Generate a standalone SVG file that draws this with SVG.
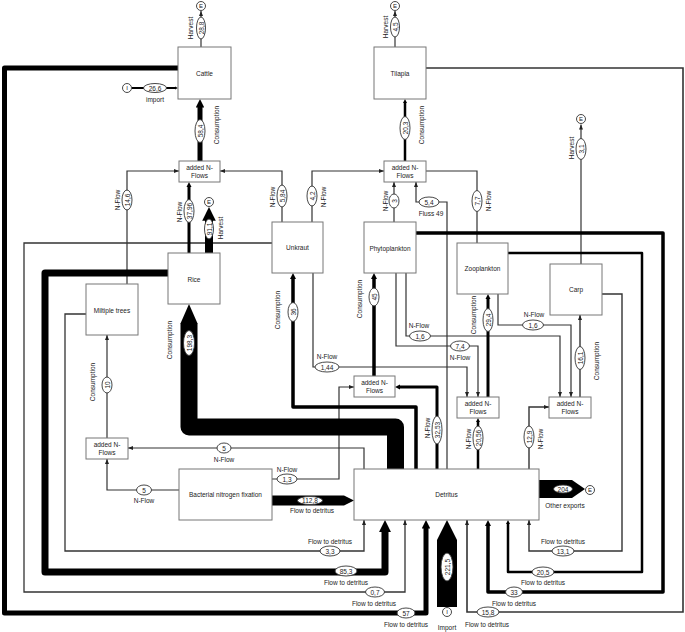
<svg xmlns="http://www.w3.org/2000/svg" width="685" height="632" viewBox="0 0 685 632">
<defs>
<style>
.box{fill:#fff;stroke:#777;stroke-width:1}
.t{font-family:"Liberation Sans",Arial,sans-serif;font-size:6.5px;fill:#222;text-anchor:middle;dominant-baseline:central}
.th{fill:none;stroke:#333;stroke-width:1.2}
.tk{fill:none;stroke:#000;stroke-linejoin:round}
.el{fill:#fff;stroke:#333;stroke-width:0.9}
.term{fill:#fff;stroke:#333;stroke-width:0.9}
.band{fill:#000}
</style>
<marker id="a" markerUnits="userSpaceOnUse" markerWidth="5" markerHeight="4" viewBox="0 0 10 8" refX="10" refY="4" orient="auto"><path d="M0,0L10,4L0,8z" fill="#222"/></marker>
<marker id="b" markerUnits="strokeWidth" markerWidth="1.7" markerHeight="1.7" viewBox="0 0 10 10" refX="2" refY="5" orient="auto"><path d="M0,0L10,5L0,10z" fill="#000"/></marker>
</defs>
<rect width="685" height="632" fill="#fff"/>

<g id="connectors">
<!-- thin lines -->
<path class="th" d="M201,47V11" marker-end="url(#a)"/>
<path class="th" d="M395,47V11" marker-end="url(#a)"/>
<path class="th" d="M127,284V171H179" marker-end="url(#a)"/>
<path class="th" d="M282,222V171H220" marker-end="url(#a)"/>
<path class="th" d="M312,222V171H384" marker-end="url(#a)"/>
<path class="th" d="M394,222V182" marker-end="url(#a)"/>
<path class="th" d="M447,469V202H416V182" marker-end="url(#a)"/>
<path class="th" d="M313,273V367H467V397" marker-end="url(#a)"/>
<path class="th" d="M272,479H339V387H354" marker-end="url(#a)"/>
<path class="th" d="M364,469V448H128" marker-end="url(#a)"/>
<path class="th" d="M179,490H107V459" marker-end="url(#a)"/>
<path class="th" d="M107,438V335" marker-end="url(#a)"/>
<path class="th" d="M86,314H65V551H364V520" marker-end="url(#a)" style="stroke-width:1.3"/>
<path class="th" d="M272,243H24V592H405V520" marker-end="url(#a)" style="stroke-width:1.3"/>
<path class="th" d="M602,294H622V551H529V520" marker-end="url(#a)" style="stroke-width:1.4"/>
<path class="th" d="M581,264V124.5" marker-end="url(#a)"/>
<path class="th" d="M426,171H477V243"/>
<path class="th" d="M396,273V346H478V397" marker-end="url(#a)"/>
<path class="th" d="M406,273V336H560V397" marker-end="url(#a)"/>
<path class="th" d="M498,294V325H571V397" marker-end="url(#a)"/>
<path class="th" d="M580,397V315" marker-end="url(#a)" style="stroke-width:1.4"/>
<path class="th" d="M529,469V407H549" marker-end="url(#a)" style="stroke-width:1.4"/>
<path class="th" d="M426,68H683V612H467V520" marker-end="url(#a)" style="stroke-width:1.6"/>
<!-- thick lines -->
<path class="tk" d="M132,88H175.3" stroke-width="2" marker-end="url(#b)"/>
<path class="tk" d="M200,161V105.8" stroke-width="5" marker-end="url(#b)"/>
<path class="tk" d="M405,161V102.4" stroke-width="2.5" marker-end="url(#b)"/>
<path class="tk" d="M178,68H4.5V613H426V526.8" stroke-width="5" marker-end="url(#b)"/>
<path class="tk" d="M168,273H45V572H385V529.5" stroke-width="7" marker-end="url(#b)"/>
<path class="tk" d="M209,253V218" stroke-width="8" marker-end="url(#b)"/>
<path class="tk" d="M189,253V186.1" stroke-width="3" marker-end="url(#b)"/>
<path class="tk" d="M416,469V407H293V277.8" stroke-width="3.5" marker-end="url(#b)"/>
<path class="tk" d="M374,376V277.8" stroke-width="3.5" marker-end="url(#b)"/>
<path class="tk" d="M437,469V387H399.1" stroke-width="3" marker-end="url(#b)"/>
<path class="tk" d="M508,253H642V572H508V523.4" stroke-width="2.5" marker-end="url(#b)"/>
<path class="tk" d="M416,233H663V592H488V524.8" stroke-width="3.5" marker-end="url(#b)"/>
<path class="tk" d="M488,397V298.1" stroke-width="3" marker-end="url(#b)"/>
<path class="tk" d="M478,469V421.4" stroke-width="2.5" marker-end="url(#b)"/>
<!-- bands -->
<path class="tk" d="M395.5,469V427H189V323" stroke-width="17"/>
<polygon class="band" points="180.5,323.5 189,304 197.5,323.5"/>
<polygon class="band" points="272,495.5 344,495.5 354,500.5 344,505.5 272,505.5"/>
<polygon class="band" points="437,607 437,540 447,520 457,540 457,607"/>
<polygon class="band" points="539,480 572,480 585,489 572,498 539,498"/>

<!-- vertical value ellipses -->
<ellipse class="el" cx="201" cy="28" rx="4.5" ry="11"/><text class="t" transform="translate(201,28) rotate(-90)">28,8</text>
<ellipse class="el" cx="200" cy="131" rx="5" ry="11.5"/><text class="t" transform="translate(200,131) rotate(-90)">58,4</text>
<ellipse class="el" cx="395" cy="27" rx="4.5" ry="10"/><text class="t" transform="translate(395,27) rotate(-90)">4,5</text>
<ellipse class="el" cx="405" cy="128" rx="5" ry="11.5"/><text class="t" transform="translate(405,128) rotate(-90)">20,3</text>
<ellipse class="el" cx="127" cy="200" rx="5" ry="10"/><text class="t" transform="translate(127,200) rotate(-90)">14,6</text>
<ellipse class="el" cx="189" cy="211" rx="5" ry="11.5"/><text class="t" transform="translate(189,211) rotate(-90)">37,96</text>
<ellipse class="el" cx="209" cy="229" rx="4.5" ry="10"/><text class="t" transform="translate(209,229) rotate(-90)">91,1</text>
<ellipse class="el" cx="282" cy="196" rx="5" ry="11"/><text class="t" transform="translate(282,196) rotate(-90)">5,84</text>
<ellipse class="el" cx="312" cy="196" rx="5" ry="10"/><text class="t" transform="translate(312,196) rotate(-90)">4,2</text>
<ellipse class="el" cx="394" cy="201" rx="5" ry="7"/><text class="t" transform="translate(394,201) rotate(-90)">3</text>
<ellipse class="el" cx="477" cy="201" rx="5" ry="10.5"/><text class="t" transform="translate(477,201) rotate(-90)">7,7</text>
<ellipse class="el" cx="581" cy="149" rx="5" ry="10.5"/><text class="t" transform="translate(581,149) rotate(-90)">3,1</text>
<ellipse class="el" cx="189" cy="343" rx="5.5" ry="12.5"/><text class="t" transform="translate(189,343) rotate(-90)">198,3</text>
<ellipse class="el" cx="293" cy="312" rx="5" ry="9.5"/><text class="t" transform="translate(293,312) rotate(-90)">36</text>
<ellipse class="el" cx="374" cy="297" rx="5" ry="9"/><text class="t" transform="translate(374,297) rotate(-90)">45</text>
<ellipse class="el" cx="488" cy="320" rx="5" ry="11.5"/><text class="t" transform="translate(488,320) rotate(-90)">29,4</text>
<ellipse class="el" cx="580" cy="358" rx="5" ry="11.5"/><text class="t" transform="translate(580,358) rotate(-90)">16,1</text>
<ellipse class="el" cx="107" cy="385" rx="5" ry="8"/><text class="t" transform="translate(107,385) rotate(-90)">10</text>
<ellipse class="el" cx="437" cy="430" rx="5" ry="14"/><text class="t" transform="translate(437,430) rotate(-90)">32,53</text>
<ellipse class="el" cx="478" cy="438" rx="5" ry="12"/><text class="t" transform="translate(478,438) rotate(-90)">20,56</text>
<ellipse class="el" cx="529" cy="437" rx="5" ry="11"/><text class="t" transform="translate(529,437) rotate(-90)">12,9</text>
<ellipse class="el" cx="447" cy="567" rx="6" ry="14"/><text class="t" transform="translate(447,567) rotate(-90)">221,5</text>

<!-- horizontal value ellipses -->
<ellipse class="el" cx="155" cy="88" rx="11.5" ry="4.5"/><text class="t" x="155" y="88">26,6</text>
<ellipse class="el" cx="429" cy="202" rx="10" ry="5"/><text class="t" x="429" y="202">5,4</text>
<ellipse class="el" cx="327" cy="367" rx="12" ry="5"/><text class="t" x="327" y="367">1,44</text>
<ellipse class="el" cx="420" cy="336" rx="10.5" ry="5"/><text class="t" x="420" y="336">1,6</text>
<ellipse class="el" cx="460" cy="346" rx="9.5" ry="5"/><text class="t" x="460" y="346">7,4</text>
<ellipse class="el" cx="533" cy="325" rx="10.5" ry="5"/><text class="t" x="533" y="325">1,6</text>
<ellipse class="el" cx="224" cy="448" rx="7" ry="5"/><text class="t" x="224" y="448">5</text>
<ellipse class="el" cx="144" cy="490" rx="7.5" ry="5"/><text class="t" x="144" y="490">5</text>
<ellipse class="el" cx="287" cy="479" rx="10" ry="5"/><text class="t" x="287" y="479">1,3</text>
<ellipse class="el" cx="310" cy="500.5" rx="12.5" ry="4"/><text class="t" x="310" y="500.5">112,8</text>
<ellipse class="el" cx="563" cy="489" rx="9.5" ry="4"/><text class="t" x="563" y="489">204</text>
<ellipse class="el" cx="330" cy="551" rx="10" ry="5"/><text class="t" x="330" y="551">3,3</text>
<ellipse class="el" cx="563" cy="551" rx="11" ry="5"/><text class="t" x="563" y="551">13,1</text>
<ellipse class="el" cx="346" cy="571" rx="11" ry="5"/><text class="t" x="346" y="571">85,3</text>
<ellipse class="el" cx="543" cy="572" rx="11" ry="5"/><text class="t" x="543" y="572">20,5</text>
<ellipse class="el" cx="375" cy="592" rx="9.5" ry="5"/><text class="t" x="375" y="592">0,7</text>
<ellipse class="el" cx="514" cy="592" rx="8.5" ry="5"/><text class="t" x="514" y="592">33</text>
<ellipse class="el" cx="406" cy="613" rx="9" ry="5"/><text class="t" x="406" y="613">57</text>
<ellipse class="el" cx="488" cy="612" rx="11" ry="5"/><text class="t" x="488" y="612">15,8</text>

<!-- rotated labels -->
<text class="t" transform="translate(190,28) rotate(-90)">Harvest</text>
<text class="t" transform="translate(216,125) rotate(-90)">Consumption</text>
<text class="t" transform="translate(385,27) rotate(-90)">Harvest</text>
<text class="t" transform="translate(421,125) rotate(-90)">Consumption</text>
<text class="t" transform="translate(117,200) rotate(-90)">N-Flow</text>
<text class="t" transform="translate(179,212) rotate(-90)">N-Flow</text>
<text class="t" transform="translate(220,228) rotate(-90)">Harvest</text>
<text class="t" transform="translate(272,197) rotate(-90)">N-Flow</text>
<text class="t" transform="translate(323,197) rotate(-90)">N-Flow</text>
<text class="t" transform="translate(385,201) rotate(-90)">N-Flow</text>
<text class="t" transform="translate(488,201) rotate(-90)">N-Flow</text>
<text class="t" transform="translate(571,148) rotate(-90)">Harvest</text>
<text class="t" transform="translate(169,340) rotate(-90)">Consumption</text>
<text class="t" transform="translate(277,310) rotate(-90)">Consumption</text>
<text class="t" transform="translate(359,299) rotate(-90)">Consumption</text>
<text class="t" transform="translate(473,315) rotate(-90)">Consumption</text>
<text class="t" transform="translate(596,361) rotate(-90)">Consumption</text>
<text class="t" transform="translate(92,382) rotate(-90)">Consumption</text>
<text class="t" transform="translate(427,428) rotate(-90)">N-Flow</text>
<text class="t" transform="translate(468,439) rotate(-90)">N-Flow</text>
<text class="t" transform="translate(540,439) rotate(-90)">N-Flow</text>

<!-- horizontal labels -->
<text class="t" x="155" y="99">import</text>
<text class="t" x="431" y="213">Fluss 49</text>
<text class="t" x="327" y="356">N-Flow</text>
<text class="t" x="419" y="325">N-Flow</text>
<text class="t" x="460" y="357">N-Flow</text>
<text class="t" x="534" y="314">N-Flow</text>
<text class="t" x="224" y="459">N-Flow</text>
<text class="t" x="144" y="500">N-Flow</text>
<text class="t" x="287" y="469">N-Flow</text>
<text class="t" x="312" y="510">Flow to detritus</text>
<text class="t" x="330" y="541">Flow to detritus</text>
<text class="t" x="346" y="582">Flow to detritus</text>
<text class="t" x="374" y="603">Flow to detritus</text>
<text class="t" x="406" y="624">Flow to detritus</text>
<text class="t" x="563" y="541">Flow to detritus</text>
<text class="t" x="543" y="582">Flow to detritus</text>
<text class="t" x="514" y="603">Flow to detritus</text>
<text class="t" x="487" y="624">Flow to detritus</text>
<text class="t" x="447" y="627">Import</text>
<text class="t" x="565" y="505">Other exports</text>
</g>

<g id="cattle"><rect class="box" x="178" y="47" width="53" height="52"/><text class="t" x="204.5" y="73">Cattle</text></g>
<g id="tilapia"><rect class="box" x="374" y="47" width="52" height="52"/><text class="t" x="400" y="73">Tilapia</text></g>
<g id="addN-cattle"><rect class="box" x="179" y="161" width="41" height="21"/><text class="t" x="199.5" y="167">added N-</text><text class="t" x="199.5" y="175.5">Flows</text></g>
<g id="addN-tilapia"><rect class="box" x="384" y="161" width="42" height="21"/><text class="t" x="405" y="167">added N-</text><text class="t" x="405" y="175.5">Flows</text></g>
<g id="rice"><rect class="box" x="168" y="253" width="52" height="51"/><text class="t" x="194" y="279">Rice</text></g>
<g id="trees"><rect class="box" x="86" y="284" width="52" height="51"/><text class="t" x="112" y="310">Miltiple trees</text></g>
<g id="unkraut"><rect class="box" x="272" y="222" width="51" height="51"/><text class="t" x="297.5" y="247.5">Unkraut</text></g>
<g id="phytoplankton"><rect class="box" x="364" y="222" width="52" height="51"/><text class="t" x="390" y="248">Phytoplankton</text></g>
<g id="zooplankton"><rect class="box" x="457" y="243" width="51" height="51"/><text class="t" x="482.5" y="268.5">Zooplankton</text></g>
<g id="carp"><rect class="box" x="550" y="264" width="52" height="51"/><text class="t" x="576" y="289.5">Carp</text></g>
<g id="addN-phyto"><rect class="box" x="354" y="376" width="41" height="21"/><text class="t" x="374.5" y="382">added N-</text><text class="t" x="374.5" y="390.5">Flows</text></g>
<g id="addN-zoo"><rect class="box" x="457" y="397" width="42" height="21"/><text class="t" x="478" y="403">added N-</text><text class="t" x="478" y="411.5">Flows</text></g>
<g id="addN-carp"><rect class="box" x="549" y="397" width="42" height="21"/><text class="t" x="570" y="403">added N-</text><text class="t" x="570" y="411.5">Flows</text></g>
<g id="addN-trees"><rect class="box" x="86" y="438" width="42" height="21"/><text class="t" x="107" y="444">added N-</text><text class="t" x="107" y="452.5">Flows</text></g>
<g id="bnf"><rect class="box" x="179" y="469" width="93" height="51"/><text class="t" x="225.5" y="494.5">Bacterial nitrogen fixation</text></g>
<g id="detritus"><rect class="box" x="354" y="469" width="185" height="51"/><text class="t" x="446.5" y="494.5">Detritus</text></g>

<g id="E-cattle"><circle class="term" cx="201" cy="6" r="4.5"/><text class="t" x="201" y="6" style="font-size:6px">E</text></g>
<g id="E-tilapia"><circle class="term" cx="395" cy="6" r="4.5"/><text class="t" x="395" y="6" style="font-size:6px">E</text></g>
<g id="E-rice"><circle class="term" cx="209" cy="202" r="4.5"/><text class="t" x="209" y="202" style="font-size:6px">E</text></g>
<g id="E-carp"><circle class="term" cx="581" cy="119" r="4.5"/><text class="t" x="581" y="119" style="font-size:6px">E</text></g>
<g id="E-detritus"><circle class="term" cx="590" cy="490" r="4.5"/><text class="t" x="590" y="490" style="font-size:6px">E</text></g>
<g id="I-cattle"><circle class="term" cx="127" cy="88" r="4.5"/><text class="t" x="127" y="88" style="font-size:6px">I</text></g>
<g id="I-detritus"><circle class="term" cx="447" cy="612" r="4.5"/><text class="t" x="447" y="612" style="font-size:6px">I</text></g>
</svg>
